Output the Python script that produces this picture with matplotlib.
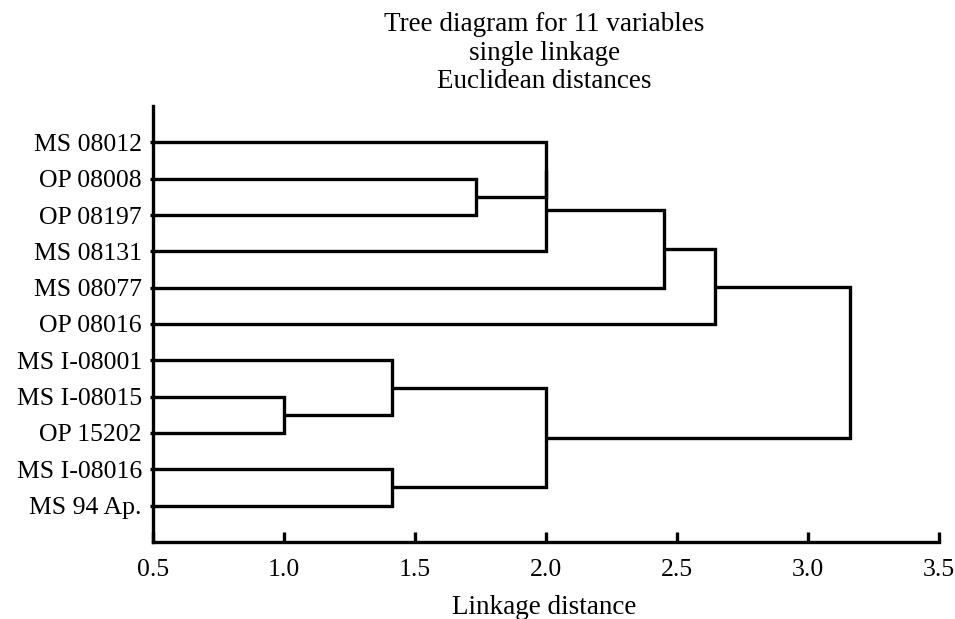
import numpy as np
import matplotlib.pyplot as plt

plt.rcParams['font.family'] = ['Liberation Serif', 'DejaVu Serif']

labels = ["MS 08012", "OP 08008", "OP 08197", "MS 08131", "MS 08077", "OP 08016",
          "MS I-08001", "MS I-08015", "OP 15202", "MS I-08016", "MS 94 Ap."]

# merges: (cluster a, cluster b, linkage distance); ids >= 11 are earlier merges
merge_a = [7, 6, 9, 1, 0, 15, 12, 16, 18, 19]
merge_b = [8, 11, 10, 2, 14, 3, 13, 4, 5, 17]
merge_d = [1.0, 1.414, 1.414, 1.732, 2.0, 2.0, 2.0, 2.449, 2.646, 3.162]

x_ticks = [0.5, 1.0, 1.5, 2.0, 2.5, 3.0, 3.5]


def main():
    fig = plt.figure(figsize=(9.55, 6.19), dpi=100)
    ax = fig.add_axes([153 / 955, 77 / 619, 786 / 955, 436 / 619])

    n = len(labels)
    pos_y = {i: i + 1 for i in range(n)}
    pos_x = {i: 0.5 for i in range(n)}
    lw = 2.4
    for k, (a, b, d) in enumerate(zip(merge_a, merge_b, merge_d)):
        ya, yb = pos_y[a], pos_y[b]
        ax.plot([pos_x[a], d, d, pos_x[b]], [ya, ya, yb, yb], color="black",
                lw=lw, solid_joinstyle="miter", solid_capstyle="butt")
        pos_y[n + k] = (ya + yb) / 2
        pos_x[n + k] = d

    ax.set_xlim(0.5, 3.5)
    ax.set_ylim(12, 0)
    ax.set_yticks(range(1, n + 1))
    ax.set_yticklabels(labels, fontsize=18.5)
    ax.set_xticks(x_ticks)
    ax.set_xticklabels([f"{t:.1f}" for t in x_ticks], fontsize=18.5)
    ax.tick_params(axis="x", direction="in", length=7, width=lw, pad=12)
    ax.tick_params(axis="y", direction="out", length=2, width=lw, pad=6)
    for s in ["top", "right"]:
        ax.spines[s].set_visible(False)
    for s in ["left", "bottom"]:
        ax.spines[s].set_linewidth(lw)

    fig.text(0.570, 1 - 53 / 619, "Tree diagram for 11 variables\nsingle linkage\nEuclidean distances",
             ha="center", va="center", fontsize=19.5, linespacing=1.17)
    fig.text(0.570, 1 - 607 / 619, "Linkage distance", ha="center", va="center", fontsize=19.5)

    fig.savefig("out.png", dpi=100)
    return 0


if __name__ == "__main__":
    main()
